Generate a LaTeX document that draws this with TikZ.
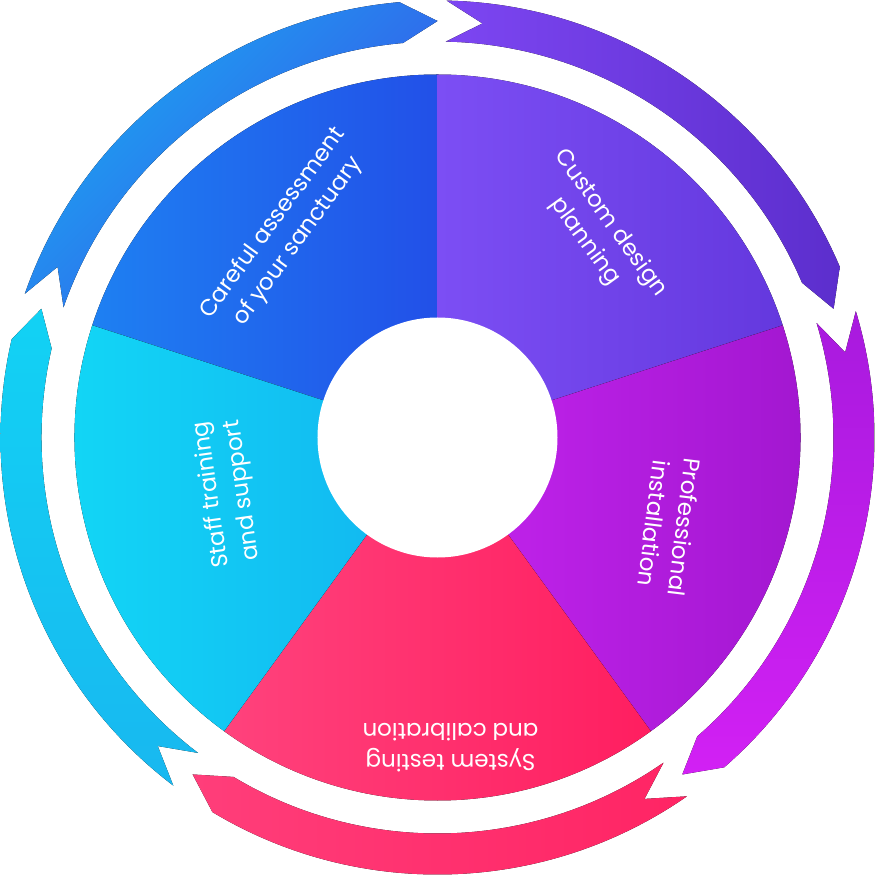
\documentclass[tikz,border=0pt]{standalone}
\usepackage{fontspec}
\setmainfont{Poppins}
\begin{document}
\begin{tikzpicture}[x=1pt,y=1pt,
  lbl/.style={text=white,font=\fontsize{23}{31}\selectfont,align=center}]
\useasboundingbox (-437.5,-437.5) rectangle (437.5,437.5);
\def\Ro{437}\def\Ri{396}\def\Rm{416.5}\def\g{1.2}\def\h{5}
\newcommand\ringseg[3]{%
  \fill[#3] ({#1-\g}:\Ro) arc[start angle={#1-\g},end angle={#2+\h},radius=\Ro]
   -- (#2:\Rm) -- ({#2+\h}:\Ri) arc[start angle={#2+\h},end angle={#1-\g},radius=\Ri]
   -- ({#1-\g-\h}:\Rm) -- cycle;}
\ringseg{162}{90}{left color={rgb,255:red,26;green,167;blue,242},right color={rgb,255:red,58;green,80;blue,232},shading angle=45}
\ringseg{90}{18}{left color={rgb,255:red,125;green,70;blue,242},right color={rgb,255:red,92;green,46;blue,205}}
\ringseg{18}{-54}{top color={rgb,255:red,168;green,26;blue,222},bottom color={rgb,255:red,210;green,32;blue,244}}
\ringseg{-54}{-126}{left color={rgb,255:red,255;green,62;blue,122},right color={rgb,255:red,255;green,36;blue,100}}
\ringseg{-126}{-198}{top color={rgb,255:red,18;green,210;blue,244},bottom color={rgb,255:red,24;green,184;blue,240}}
\def\Rp{363}
\newcommand\sectorfill[3]{\fill[#3] (0,0) -- (#1:\Rp) arc[start angle=#1,end angle=#2,radius=\Rp] -- cycle;}
\sectorfill{162}{90}{left color={rgb,255:red,30;green,128;blue,242},right color={rgb,255:red,34;green,80;blue,232}}
\sectorfill{90}{18}{left color={rgb,255:red,124;green,78;blue,244},right color={rgb,255:red,100;green,56;blue,222}}
\sectorfill{18}{-54}{left color={rgb,255:red,196;green,36;blue,238},right color={rgb,255:red,160;green,22;blue,206}}
\sectorfill{-54}{-126}{left color={rgb,255:red,255;green,66;blue,124},right color={rgb,255:red,255;green,30;blue,96}}
\sectorfill{-126}{-198}{left color={rgb,255:red,18;green,216;blue,246},right color={rgb,255:red,18;green,180;blue,240}}
\fill[white] (0,0) circle[radius=120];
\node[lbl,rotate=54] (a) at (-152,205) {Careful assessment\\of your sanctuary};
\node[lbl,rotate=-54] (b) at (160,205) {Custom design\\planning};
\node[lbl,rotate=-97] (c) at (232,-88) {Professional\\installation};
\node[lbl,rotate=180] (d) at (13,-310) {System testing\\and calibration};
\node[lbl,rotate=98] (e) at (-210,-55) {Staff training\\and support};
\end{tikzpicture}
\end{document}
